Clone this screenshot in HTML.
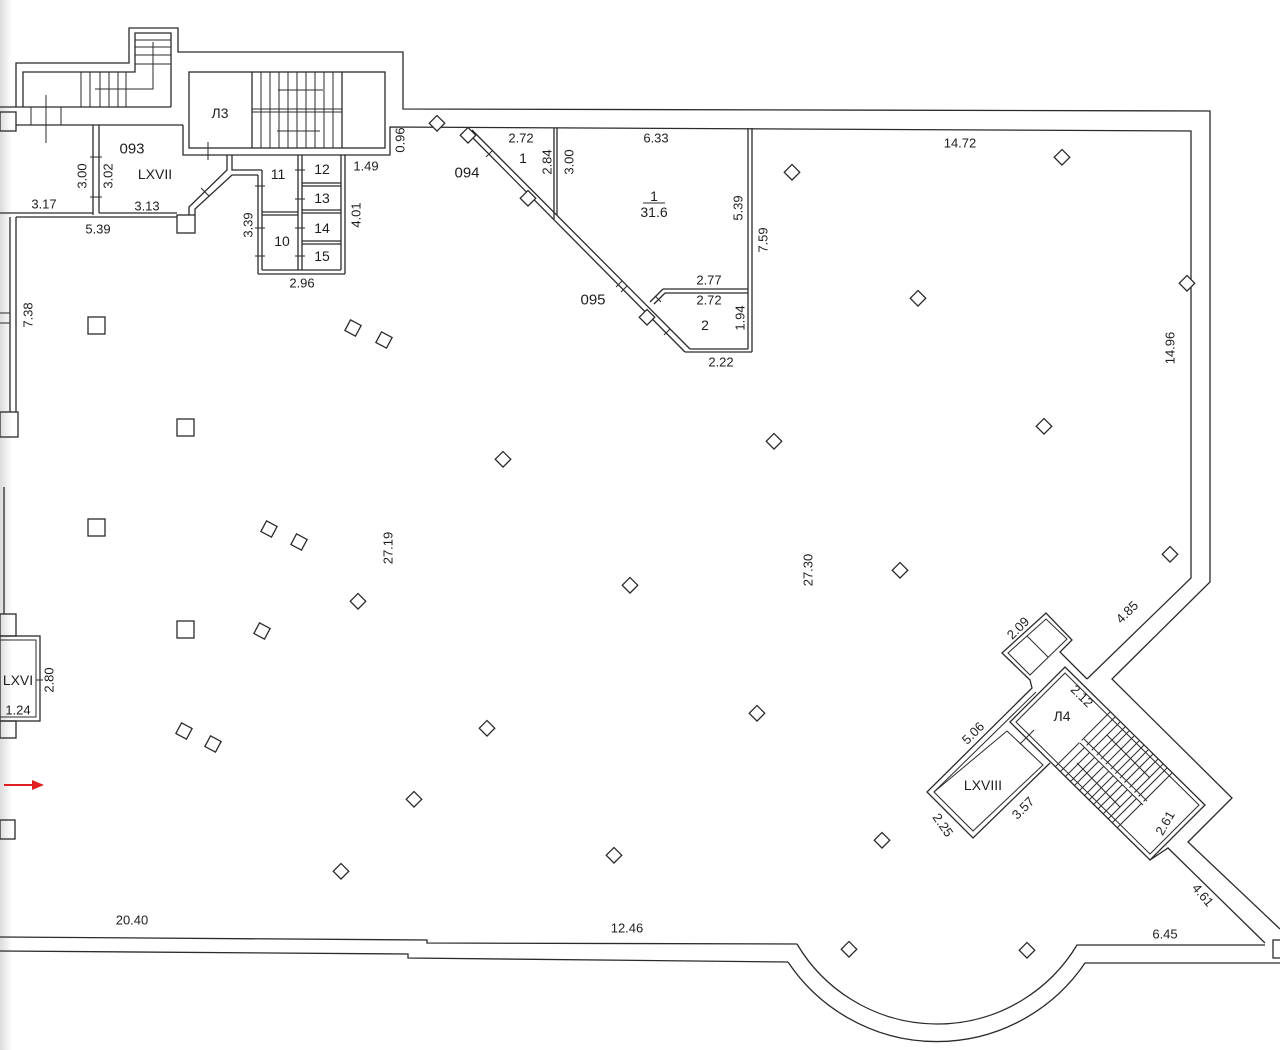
<!DOCTYPE html>
<html><head><meta charset="utf-8"><style>
html,body{margin:0;padding:0;background:#fff}
svg{display:block}
text{font-family:"Liberation Sans",Arial,sans-serif;fill:#1e1e1e;font-size:13px;text-anchor:middle;dominant-baseline:central}
.w{fill:none;stroke:#2b2b2b;stroke-width:1.3}
.t{fill:none;stroke:#2b2b2b;stroke-width:1}
.c{fill:#fff;stroke:#2b2b2b;stroke-width:1.3}
</style></head><body>
<svg width="1280" height="1050" viewBox="0 0 1280 1050" xmlns="http://www.w3.org/2000/svg">
<defs>
<linearGradient id="lg" x1="0" x2="1" y1="0" y2="0">
<stop offset="0" stop-color="#dcdcdc"/><stop offset="1" stop-color="#ffffff"/>
</linearGradient>
</defs>
<rect width="1280" height="1050" fill="#fff"/>
<rect width="12" height="1050" fill="url(#lg)"/>

<!-- ===== outer building top & right ===== -->
<polyline class="w" points="16,107 16,63 129,63 129,28 178,28 178,52 403,52 403,109 1210,111 1210,582 1112,679 1232,798 1188,842 1280,929"/>
<!-- inner top & right -->
<polyline class="w" points="183,125 183,155 390,155 390,127 1191,131 1191,578 1087,679"/>

<!-- top-left stair -->
<polyline class="w" points="23,107 23,72 135,72 135,33 171,33 171,107"/>
<line class="w" x1="0" y1="107" x2="171" y2="107"/>
<line class="w" x1="16" y1="125" x2="183" y2="125"/>
<rect class="w" x="0" y="112" width="16" height="19"/>
<line class="t" x1="31" y1="107" x2="31" y2="125"/>
<line class="t" x1="61" y1="107" x2="61" y2="125"/>
<line class="t" x1="46" y1="95" x2="46" y2="143"/>
<g class="t">
<line x1="81" y1="72" x2="81" y2="107"/><line x1="90" y1="72" x2="90" y2="107"/><line x1="100" y1="72" x2="100" y2="107"/><line x1="109" y1="72" x2="109" y2="107"/><line x1="118" y1="72" x2="118" y2="107"/><line x1="126" y1="72" x2="126" y2="107"/>
<line x1="135" y1="40" x2="171" y2="40"/><line x1="135" y1="47" x2="171" y2="47"/><line x1="135" y1="55" x2="171" y2="55"/><line x1="135" y1="64" x2="171" y2="64"/>
</g>
<polyline class="t" points="153,42 153,89 95,89"/>

<!-- L3 -->
<rect class="w" x="189" y="72" width="196" height="76"/>
<line class="w" x1="252" y1="72" x2="252" y2="148"/>
<line class="w" x1="342" y1="72" x2="342" y2="148"/>
<line class="t" x1="252" y1="109" x2="342" y2="109"/>
<line class="t" x1="252" y1="112" x2="342" y2="112"/>
<g class="t">
<line x1="261" y1="72" x2="261" y2="148"/><line x1="270" y1="72" x2="270" y2="148"/><line x1="279" y1="72" x2="279" y2="148"/><line x1="288" y1="72" x2="288" y2="148"/><line x1="297" y1="72" x2="297" y2="148"/><line x1="306" y1="72" x2="306" y2="148"/><line x1="315" y1="72" x2="315" y2="148"/><line x1="324" y1="72" x2="324" y2="148"/><line x1="333" y1="72" x2="333" y2="148"/>
<line x1="278" y1="90" x2="323" y2="90"/><line x1="277" y1="131" x2="320" y2="131"/>
<line x1="208" y1="142" x2="208" y2="160"/>
</g>

<!-- 093 / left rooms -->
<line class="w" x1="93" y1="125" x2="93" y2="215"/>
<line class="w" x1="99" y1="125" x2="99" y2="213"/>
<line class="t" x1="90" y1="157" x2="102" y2="157"/>
<line class="t" x1="90" y1="197" x2="102" y2="197"/>
<line class="w" x1="0" y1="213" x2="93" y2="213"/>
<line class="w" x1="99" y1="213" x2="177" y2="213"/>
<line class="w" x1="16" y1="217" x2="177" y2="217"/>
<rect class="w" x="177" y="215" width="18" height="18"/>
<polyline class="w" points="189,215 189,207 227,170 227,155"/>
<polyline class="w" points="195,215 195,209 232,175 258,175"/>
<polyline class="w" points="232,155 232,170 262,170"/>
<line class="t" x1="201" y1="188" x2="209" y2="196"/>

<!-- rooms 10-15 -->
<line class="w" x1="258" y1="175" x2="258" y2="274"/>
<line class="w" x1="262" y1="170" x2="262" y2="270"/>
<line class="w" x1="258" y1="274" x2="345" y2="274"/>
<line class="w" x1="262" y1="270" x2="341" y2="270"/>
<line class="w" x1="345" y1="155" x2="345" y2="274"/>
<line class="w" x1="341" y1="155" x2="341" y2="270"/>
<line class="w" x1="298" y1="155" x2="298" y2="270"/>
<line class="w" x1="302" y1="155" x2="302" y2="270"/>
<line class="w" x1="262" y1="212" x2="298" y2="212"/>
<line class="w" x1="262" y1="215" x2="298" y2="215"/>
<line class="w" x1="302" y1="183" x2="341" y2="183"/>
<line class="w" x1="302" y1="186" x2="341" y2="186"/>
<line class="w" x1="302" y1="210" x2="341" y2="210"/>
<line class="w" x1="302" y1="213" x2="341" y2="213"/>
<line class="w" x1="302" y1="241" x2="341" y2="241"/>
<line class="w" x1="302" y1="244" x2="341" y2="244"/>
<g class="t">
<line x1="255" y1="186" x2="265" y2="186"/><line x1="255" y1="256" x2="265" y2="256"/><line x1="255" y1="228" x2="265" y2="228"/>
<line x1="295" y1="170" x2="305" y2="170"/><line x1="295" y1="199" x2="305" y2="199"/><line x1="295" y1="228" x2="305" y2="228"/><line x1="295" y1="256" x2="305" y2="256"/>
</g>

<!-- left exterior wall -->
<line class="w" x1="10" y1="217" x2="10" y2="412"/>
<line class="w" x1="16" y1="217" x2="16" y2="412"/>
<line class="t" x1="0" y1="313" x2="10" y2="313"/>
<line class="t" x1="0" y1="323" x2="10" y2="323"/>
<rect class="w" x="0" y="412" width="18" height="25"/>
<line class="w" x1="4" y1="487" x2="4" y2="614"/>
<rect class="w" x="0" y="614" width="16" height="22"/>
<rect class="w" x="0" y="636" width="40" height="85"/>
<rect class="t" x="0" y="640" width="36" height="77"/>
<line class="t" x1="36" y1="680" x2="43" y2="680"/>
<rect class="w" x="0" y="721" width="16" height="17"/>
<rect class="w" x="0" y="820" width="15" height="19"/>
<!-- red arrow -->
<line x1="4" y1="785" x2="34" y2="785" stroke="#e02020" stroke-width="2"/>
<polygon points="32,780 44,785 32,790" fill="#e02020"/>

<!-- triangle rooms -->
<line class="w" x1="467" y1="132" x2="685" y2="352"/>
<line class="w" x1="472" y1="130" x2="690" y2="349"/>
<line class="w" x1="554" y1="128" x2="554" y2="219"/>
<line class="w" x1="557" y1="128" x2="557" y2="215"/>
<line class="w" x1="748" y1="128" x2="748" y2="349"/>
<line class="w" x1="752" y1="128" x2="752" y2="352"/>
<line class="w" x1="663" y1="289" x2="748" y2="289"/>
<line class="w" x1="665" y1="293" x2="748" y2="293"/>
<line class="w" x1="663" y1="289" x2="650" y2="302"/>
<line class="w" x1="665" y1="293" x2="654" y2="304"/>
<line class="w" x1="690" y1="349" x2="748" y2="349"/>
<line class="w" x1="685" y1="352" x2="752" y2="352"/>
<g class="t">
<line x1="486" y1="157" x2="492" y2="151"/><line x1="616" y1="287" x2="622" y2="281"/><line x1="621" y1="292" x2="627" y2="286"/><line x1="664" y1="335" x2="670" y2="329"/><line x1="655" y1="296" x2="661" y2="302"/>
</g>

<!-- bottom wall -->
<polyline class="w" points="0,937 427,940 427,943 797,944"/>
<polyline class="w" points="0,951 408,954 408,958 788,962"/>
<path class="w" d="M797,944 A163,163 0 0 0 1077,945 L1265,945"/>
<path class="w" d="M788,962 A179,179 0 0 0 1085,963 L1280,963"/>
<rect class="w" x="1273" y="940" width="8" height="18"/>

<!-- L4 block -->
<polyline class="w" points="1087,679 1060,652 1072,640 1046,613 1002,653 1030,680 1032,688 927,792 973,838 1050,763"/>
<polygon class="t" points="1008,653 1046,619 1067,639 1030,675"/>
<line class="t" x1="1027" y1="636" x2="1048" y2="657"/>
<polyline class="t" points="1036,692 934,792"/>
<polygon class="w" points="1065,667 1205,805 1150,860 1010,722"/>
<polygon class="t" points="1065,673 1199,805 1150,854 1016,722"/>
<polygon class="t" points="1007,731 1043,765 973,831 934,792"/>
<line class="t" x1="1020" y1="744" x2="1034" y2="730"/>
<line class="t" x1="943" y1="808" x2="950" y2="815"/>
<polyline class="w" points="1150,860 1168,848 1265,943"/>
<!-- stairs L4 -->
<g class="t">
<line x1="1110" y1="712" x2="1055" y2="767"/>
<line x1="1172" y1="773" x2="1117" y2="828"/>
<line x1="1115" y1="717" x2="1060" y2="772"/>
<line x1="1120" y1="722" x2="1065" y2="777"/>
<line x1="1125" y1="727" x2="1070" y2="782"/>
<line x1="1129" y1="731" x2="1074" y2="786"/>
<line x1="1134" y1="736" x2="1079" y2="791"/>
<line x1="1139" y1="741" x2="1084" y2="796"/>
<line x1="1144" y1="745" x2="1089" y2="800"/>
<line x1="1148" y1="750" x2="1093" y2="805"/>
<line x1="1153" y1="754" x2="1098" y2="809"/>
<line x1="1158" y1="759" x2="1103" y2="814"/>
<line x1="1163" y1="764" x2="1108" y2="819"/>
<line x1="1167" y1="768" x2="1112" y2="823"/>
<line x1="1107" y1="735" x2="1150" y2="778"/>
<line x1="1077" y1="763" x2="1120" y2="807"/>
</g>
<line x1="1080" y1="741" x2="1143" y2="803" stroke="#fff" stroke-width="3"/>
<line class="t" x1="1080" y1="743" x2="1143" y2="805"/>
<line class="t" x1="1084" y1="739" x2="1147" y2="801"/>

<!-- columns -->
<g class="c">
<rect x="88" y="317" width="17" height="17"/>
<rect x="177" y="419" width="17" height="17"/>
<rect x="88" y="519" width="17" height="17"/>
<rect x="177" y="621" width="17" height="17"/>
<rect x="347" y="322" width="12" height="12" transform="rotate(28 353 328)"/>
<rect x="378" y="334" width="12" height="12" transform="rotate(28 384 340)"/>
<rect x="263" y="523" width="12" height="12" transform="rotate(28 269 529)"/>
<rect x="293" y="536" width="12" height="12" transform="rotate(28 299 542)"/>
<rect x="256" y="625" width="12" height="12" transform="rotate(28 262 631)"/>
<rect x="178" y="725" width="12" height="12" transform="rotate(28 184 731)"/>
<rect x="207" y="738" width="12" height="12" transform="rotate(28 213 744)"/>
</g>
<g class="c">
<rect x="431" y="118" width="11" height="11" transform="rotate(45 437 124)"/>
<rect x="462" y="130" width="11" height="11" transform="rotate(45 468 136)"/>
<rect x="522" y="193" width="11" height="11" transform="rotate(45 528 199)"/>
<rect x="641" y="312" width="11" height="11" transform="rotate(45 647 318)"/>
<rect x="786" y="167" width="11" height="11" transform="rotate(45 792 173)"/>
<rect x="1056" y="152" width="11" height="11" transform="rotate(45 1062 158)"/>
<rect x="912" y="293" width="11" height="11" transform="rotate(45 918 299)"/>
<rect x="1181" y="278" width="11" height="11" transform="rotate(45 1187 284)"/>
<rect x="497" y="454" width="11" height="11" transform="rotate(45 503 460)"/>
<rect x="768" y="436" width="11" height="11" transform="rotate(45 774 442)"/>
<rect x="1038" y="421" width="11" height="11" transform="rotate(45 1044 427)"/>
<rect x="624" y="580" width="11" height="11" transform="rotate(45 630 586)"/>
<rect x="894" y="565" width="11" height="11" transform="rotate(45 900 571)"/>
<rect x="1164" y="549" width="11" height="11" transform="rotate(45 1170 555)"/>
<rect x="352" y="596" width="11" height="11" transform="rotate(45 358 602)"/>
<rect x="481" y="723" width="11" height="11" transform="rotate(45 487 729)"/>
<rect x="751" y="708" width="11" height="11" transform="rotate(45 757 714)"/>
<rect x="408" y="794" width="11" height="11" transform="rotate(45 414 800)"/>
<rect x="335" y="866" width="11" height="11" transform="rotate(45 341 872)"/>
<rect x="608" y="850" width="11" height="11" transform="rotate(45 614 856)"/>
<rect x="876" y="835" width="11" height="11" transform="rotate(45 882 841)"/>
<rect x="843" y="944" width="11" height="11" transform="rotate(45 849 950)"/>
<rect x="1021" y="945" width="11" height="11" transform="rotate(45 1027 951)"/>
</g>

<!-- labels -->
<text x="220" y="113" style="font-size:14px">Л3</text>
<text x="132" y="149" style="font-size:15px">093</text>
<text x="155" y="174" style="font-size:14px">LXVII</text>
<text x="82" y="176" transform="rotate(-90 82 176)">3.00</text>
<text x="108" y="176" transform="rotate(-90 108 176)">3.02</text>
<text x="44" y="204">3.17</text>
<text x="147" y="206">3.13</text>
<text x="98" y="229">5.39</text>
<text x="278" y="174" style="font-size:14px">11</text>
<text x="322" y="169" style="font-size:14px">12</text>
<text x="322" y="198" style="font-size:14px">13</text>
<text x="322" y="228" style="font-size:14px">14</text>
<text x="322" y="256" style="font-size:14px">15</text>
<text x="282" y="241" style="font-size:14px">10</text>
<text x="248" y="225" transform="rotate(-90 248 225)">3.39</text>
<text x="356" y="215" transform="rotate(-90 356 215)">4.01</text>
<text x="302" y="283">2.96</text>
<text x="366" y="166">1.49</text>
<text x="400" y="140" transform="rotate(-90 400 140)">0.96</text>
<text x="467" y="173" style="font-size:15px">094</text>
<text x="521" y="138">2.72</text>
<text x="523" y="158" style="font-size:14px">1</text>
<text x="547" y="162" transform="rotate(-90 547 162)">2.84</text>
<text x="569" y="162" transform="rotate(-90 569 162)">3.00</text>
<text x="656" y="138">6.33</text>
<text x="654" y="196" style="font-size:14px">1</text>
<line class="t" x1="643" y1="203" x2="665" y2="203"/>
<text x="654" y="212" style="font-size:14px">31.6</text>
<text x="738" y="208" transform="rotate(-90 738 208)">5.39</text>
<text x="763" y="240" transform="rotate(-90 763 240)">7.59</text>
<text x="960" y="143">14.72</text>
<text x="593" y="300" style="font-size:15px">095</text>
<text x="709" y="280">2.77</text>
<text x="709" y="300">2.72</text>
<text x="705" y="325" style="font-size:14px">2</text>
<text x="740" y="318" transform="rotate(-90 740 318)">1.94</text>
<text x="721" y="362">2.22</text>
<text x="28" y="315" transform="rotate(-90 28 315)">7.38</text>
<text x="1170" y="348" transform="rotate(-90 1170 348)">14.96</text>
<text x="388" y="548" transform="rotate(-90 388 548)">27.19</text>
<text x="808" y="570" transform="rotate(-90 808 570)">27.30</text>
<text x="1018" y="628" transform="rotate(-45 1018 628)">2.09</text>
<text x="1127" y="612" transform="rotate(-45 1127 612)">4.85</text>
<text x="1082" y="696" transform="rotate(45 1082 696)">2.12</text>
<text x="1062" y="716" style="font-size:14px">Л4</text>
<text x="973" y="733" transform="rotate(-45 973 733)">5.06</text>
<text x="983" y="785" style="font-size:14px">LXVIII</text>
<text x="1023" y="808" transform="rotate(-45 1023 808)">3.57</text>
<text x="943" y="825" transform="rotate(55 943 825)">2.25</text>
<text x="1165" y="823" transform="rotate(-60 1165 823)">2.61</text>
<text x="1203" y="895" transform="rotate(50 1203 895)">4.61</text>
<text x="18" y="680" style="font-size:14px">LXVI</text>
<text x="49" y="680" transform="rotate(-90 49 680)">2.80</text>
<text x="18" y="710">1.24</text>
<text x="132" y="920">20.40</text>
<text x="627" y="928">12.46</text>
<text x="1165" y="934">6.45</text>
</svg>
</body></html>
